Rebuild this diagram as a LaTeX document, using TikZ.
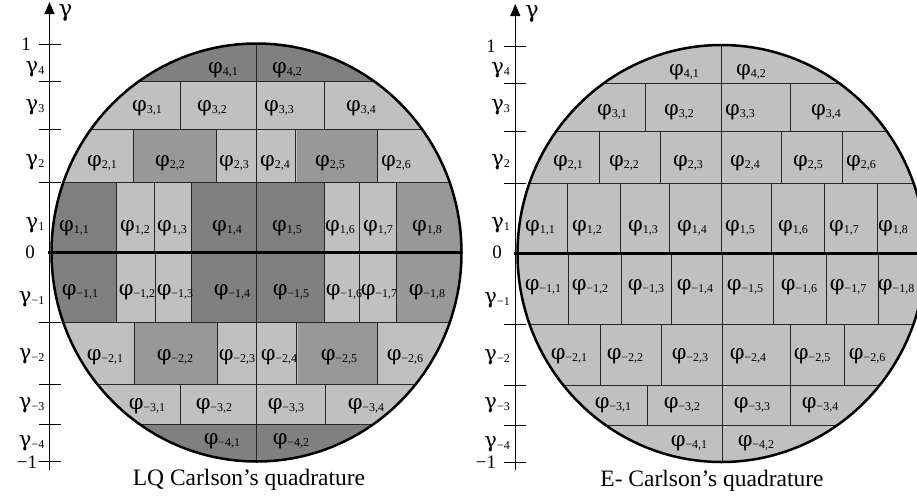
\documentclass[tikz,border=0pt]{standalone}
\usepackage{fontspec}
\setmainfont{Liberation Serif}
\newfontfamily\grkfont{DejaVu Serif}
\usetikzlibrary{arrows.meta}
\definecolor{lightg}{RGB}{192,192,192}
\definecolor{darkg}{RGB}{128,128,128}
\definecolor{midg}{RGB}{152,152,152}
\newcommand\cellsub[1]{\raisebox{-2pt}{\fontsize{12}{12}\selectfont #1}}
\newcommand\grk[1]{{\grkfont\fontsize{21}{21}\selectfont #1}}
\begin{document}
\begin{tikzpicture}[x=1pt,y=-1pt,
  cell/.style={font=\fontsize{18}{18}\selectfont, inner sep=0pt},
  axlbl/.style={font=\fontsize{19}{19}\selectfont, inner sep=0pt},
  caption/.style={font=\fontsize{23.5}{24}\selectfont, inner sep=0pt},
  cellline/.style={line width=0.9pt, black!85},
  rim/.style={line width=2.5pt, black},
  zeroline/.style={line width=3pt, black},
  axis/.style={line width=1.1pt, black, -{Triangle[width=10pt,length=12pt]}},
  tick/.style={line width=1pt, black}]
\useasboundingbox (0,0) rectangle (917,499);
\begin{scope}
\clip (0,0) rectangle (917,499);
% ================= LEFT =================
\begin{scope}
\clip (256.5,252.5) ellipse [x radius=205pt, y radius=209pt];
\fill[lightg] (40,30) rectangle (470,470);
\fill[darkg] (40,30) rectangle (470,81.7);
\fill[darkg] (40,424) rectangle (470,470);
\fill[midg] (133.3,129) rectangle (216.7,182.7);
\fill[midg] (296.5,129) rectangle (377,182.7);
\fill[darkg] (40,182.7) rectangle (116,252);
\fill[darkg] (191,182.7) rectangle (324.3,252);
\fill[midg] (396,182.7) rectangle (470,252);
\fill[darkg] (40,252) rectangle (116.7,322.7);
\fill[darkg] (191.7,252) rectangle (324.3,322.7);
\fill[midg] (396.7,252) rectangle (470,322.7);
\fill[midg] (134.3,322.7) rectangle (217.3,384);
\fill[midg] (297.5,322.7) rectangle (377.7,384);
\foreach \yy in {81.7,129,182.7,322.7,384,424}
  \draw[cellline] (40,\yy) -- (470,\yy);
\draw[cellline] (256,40) -- (256,81.7);
\foreach \xx in {180,256,324.3} \draw[cellline] (\xx,81.7) -- (\xx,129);
\foreach \xx in {133.3,216.7,256,295.3,377} \draw[cellline] (\xx,129) -- (\xx,182.7);
\foreach \xx in {116,154.3,191,256,324.3,359,396} \draw[cellline] (\xx,182.7) -- (\xx,252);
\foreach \xx in {116.7,155,191.7,256,324.3,359.3,396.7} \draw[cellline] (\xx,252) -- (\xx,322.7);
\foreach \xx in {134.3,217.3,256.7,296,377.7} \draw[cellline] (\xx,322.7) -- (\xx,384);
\foreach \xx in {180.3,256,325} \draw[cellline] (\xx,384) -- (\xx,424);
\draw[cellline] (256,424) -- (256,470);
\end{scope}
\draw[rim] (256.5,252.5) ellipse [x radius=205pt, y radius=209pt];
\coordinate (Lax0) at (49.5,470);
\coordinate (Laxt) at (49.5,2);
\draw[axis] (Lax0) -- (Laxt);
\coordinate (Lz0) at (48,252);
\coordinate (Lz1) at (461.5,252);
\draw[zeroline] (Lz0) -- (Lz1);
\foreach \yy in {44,81.7,129,182.7,322.7,384,424,461.5}
  \draw[tick] (38.5,\yy) -- (61,\yy);
\node[axlbl] (Lgam) at (65.5,13) {{\grkfont\fontsize{23}{23}\selectfont γ}};
\node[axlbl] (Lone) at (26,44) {1};
\node[axlbl] (Lzero) at (30,252) {0};
\node[axlbl] (Lmone) at (27,462) {−1};
\foreach \nm/\yy/\t in {Lg4/69/4,Lg3/107/3,Lg2/162/2,Lg1/225/1,Lgm1/299/{−1},Lgm2/356.7/{−2},Lgm3/405/{−3},Lgm4/443/{−4}}
  \node[axlbl,anchor=east] (\nm) at (44.5,\yy) {\grk{γ}\cellsub{\t}};
% cell labels left
\foreach \nm/\xx/\yy/\t in {
  L41/223/70/{4,1}, L42/287/70/{4,2},
  L31/147/108/{3,1}, L32/212/108/{3,2}, L33/279/108/{3,3}, L34/361/108/{3,4},
  L21/102/163/{2,1}, L22/170/163/{2,2}, L23/234/163/{2,3}, L24/275/163/{2,4}, L25/330/163/{2,5}, L26/396/163/{2,6},
  L11/74/228/{1,1}, L12/135/228/{1,2}, L13/172/228/{1,3}, L14/227/228/{1,4}, L15/287/228/{1,5}, L16/340/228/{1,6}, L17/378/228/{1,7}, L18/427/228/{1,8},
  Lm11/80/291.7/{−1,1}, Lm12/137/291.7/{−1,2}, Lm13/175/291.7/{−1,3}, Lm14/232/291.7/{−1,4}, Lm15/291/291.7/{−1,5}, Lm16/344/291.7/{−1,6}, Lm17/379/291.7/{−1,7}, Lm18/427/291.7/{−1,8},
  Lm21/105/356.7/{−2,1}, Lm22/175/356.7/{−2,2}, Lm23/237/356.7/{−2,3}, Lm24/279/356.7/{−2,4}, Lm25/339/356.7/{−2,5}, Lm26/405/356.7/{−2,6},
  Lm31/147/405.7/{−3,1}, Lm32/214/405.7/{−3,2}, Lm33/286/405.7/{−3,3}, Lm34/366/405.7/{−3,4},
  Lm41/222/440.7/{−4,1}, Lm42/291/440.7/{−4,2}}
  \node[cell] (\nm) at (\xx,\yy) {\grk{φ}\cellsub{\t}};
\node[caption] (Lcap) at (249,480) {LQ Carlson’s quadrature};
% ================= RIGHT =================
\begin{scope}
\clip (721.5,253.5) ellipse [x radius=204pt, y radius=208.5pt];
\fill[lightg] (505,30) rectangle (940,470);
\foreach \yy in {83.3,131,183.3,324,385,425}
  \draw[cellline] (505,\yy) -- (940,\yy);
\draw[cellline] (721.3,40) -- (721.3,83.3);
\foreach \xx in {645.7,721.3,790.3} \draw[cellline] (\xx,83.3) -- (\xx,131);
\foreach \xx in {599.3,660.3,721.3,781.3,842.7} \draw[cellline] (\xx,131) -- (\xx,183.3);
\foreach \xx in {567,620.3,669.3,721.3,771.7,824.7,877} \draw[cellline] (\xx,183.3) -- (\xx,253);
\foreach \xx in {568.7,621.3,671,722.7,773,826,878} \draw[cellline] (\xx,253) -- (\xx,324);
\foreach \xx in {600.3,661.3,722.7,790.3,844.3} \draw[cellline] (\xx,324) -- (\xx,385);
\foreach \xx in {647,722.7,790.3} \draw[cellline] (\xx,385) -- (\xx,425);
\draw[cellline] (722.7,425) -- (722.7,470);
\end{scope}
\draw[rim] (721.5,253.5) ellipse [x radius=204pt, y radius=208.5pt];
\coordinate (Rax0) at (515.3,470);
\coordinate (Raxt) at (515.3,4);
\draw[axis] (Rax0) -- (Raxt);
\coordinate (Rz0) at (514,253);
\coordinate (Rz1) at (917,253);
\draw[zeroline] (Rz0) -- (Rz1);
\foreach \yy in {46,83.3,131,183.3,324,385,425,462}
  \draw[tick] (503.7,\yy) -- (526,\yy);
\node[axlbl] (Rgam) at (532,14) {{\grkfont\fontsize{23}{23}\selectfont γ}};
\node[axlbl] (Rone) at (491,46) {1};
\node[axlbl] (Rzero) at (497,252) {0};
\node[axlbl] (Rmone) at (486,462) {−1};
\foreach \nm/\yy/\t in {Rg4/70.7/4,Rg3/107/3,Rg2/162/2,Rg1/225/1,Rgm1/300.7/{−1},Rgm2/357/{−2},Rgm3/405.7/{−3},Rgm4/444.5/{−4}}
  \node[axlbl,anchor=east] (\nm) at (510,\yy) {\grk{γ}\cellsub{\t}};
\foreach \nm/\xx/\yy/\t in {
  R41/684/71.7/{4,1}, R42/751/71.7/{4,2},
  R31/612/111.7/{3,1}, R32/679/111.7/{3,2}, R33/740/111.7/{3,3}, R34/826/111.7/{3,4},
  R21/568/163.3/{2,1}, R22/624/163.3/{2,2}, R23/688/163.3/{2,3}, R24/745/163.3/{2,4}, R25/808/163.3/{2,5}, R26/861/163.3/{2,6},
  R11/540/228.3/{1,1}, R12/587/228.3/{1,2}, R13/643/228.3/{1,3}, R14/692/228.3/{1,4}, R15/740/228.3/{1,5}, R16/793/228.3/{1,6}, R17/844/228.3/{1,7}, R18/893/228.3/{1,8},
  Rm11/543/286.7/{−1,1}, Rm12/590/286.7/{−1,2}, Rm13/646/286.7/{−1,3}, Rm14/695/286.7/{−1,4}, Rm15/745/286.7/{−1,5}, Rm16/799/286.7/{−1,6}, Rm17/848/286.7/{−1,7}, Rm18/896/286.7/{−1,8},
  Rm21/569/356/{−2,1}, Rm22/625/356/{−2,2}, Rm23/690/356/{−2,3}, Rm24/748/356/{−2,4}, Rm25/812/356/{−2,5}, Rm26/867/356/{−2,6},
  Rm31/613/405/{−3,1}, Rm32/682/405/{−3,2}, Rm33/752/405/{−3,3}, Rm34/820/405/{−3,4},
  Rm41/689/442.7/{−4,1}, Rm42/756/442.7/{−4,2}}
  \node[cell] (\nm) at (\xx,\yy) {\grk{φ}\cellsub{\t}};
\node[caption] (Rcap) at (712,481) {E- Carlson’s quadrature};
\end{scope}
\end{tikzpicture}
\end{document}
